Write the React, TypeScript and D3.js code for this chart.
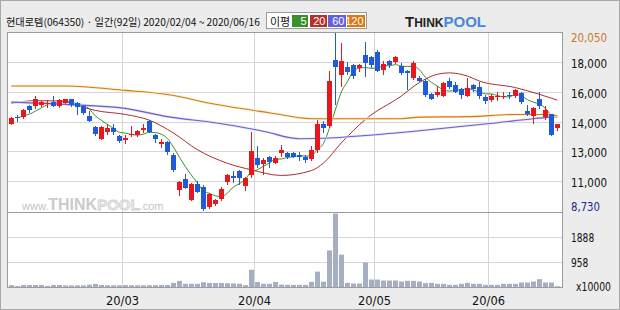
import React from "react";
import * as d3 from "d3";

const W = 620;
const H = 310;

// ---- data ----
const opens = [14250, 14700, 14650, 15350, 15350, 15450, 15500, 15650, 15350, 15600, 15800, 15550, 15350, 14750, 14050, 13300, 13700, 14000, 13450, 13200, 13500, 13500, 13850, 14400, 13500, 12950, 13100, 12250, 10000, 10700, 9400, 10400, 10200, 8900, 9100, 9450, 10500, 10900, 11250, 10250, 10950, 12050, 11650, 12100, 11750, 12350, 12400, 12400, 12250, 12100, 12000, 12550, 14250, 14100, 18350, 17350, 17850, 18000, 17800, 18650, 18500, 18850, 17700, 18250, 18200, 17950, 17650, 17150, 17200, 16950, 16150, 16100, 16050, 17000, 16750, 16500, 16050, 16700, 16600, 15950, 15750, 15950, 16000, 16100, 16050, 16200, 15050, 14750, 15800, 14650, 14850, 13950];
const highs = [14700, 14800, 15200, 15450, 16000, 15700, 15750, 16050, 15800, 15850, 15800, 15650, 15450, 15050, 14100, 14100, 14200, 14250, 13550, 13500, 14100, 13850, 14200, 14500, 13600, 13250, 13150, 12400, 10600, 11050, 10450, 10600, 10350, 9800, 9450, 10200, 11050, 11200, 11300, 10850, 13750, 12850, 12050, 12200, 12200, 12900, 12450, 12450, 12450, 12250, 12800, 14500, 14400, 17600, 20050, 19400, 18200, 18050, 18050, 19450, 18550, 18950, 18250, 18300, 18600, 18150, 17700, 18250, 17300, 17100, 16200, 16650, 16900, 17150, 16900, 16550, 17200, 16800, 16900, 16100, 16150, 16250, 16250, 16250, 16450, 16300, 15450, 15300, 16250, 15400, 14850, 14250];
const lows = [14200, 14450, 14600, 15000, 15250, 15350, 15300, 15350, 15300, 15550, 15400, 14900, 14850, 14400, 13500, 13300, 13600, 13600, 13050, 13000, 13450, 13450, 13750, 13700, 13100, 12750, 12300, 11200, 9700, 10150, 9400, 9900, 8730, 8850, 9050, 9400, 10400, 10500, 10400, 10000, 10850, 11500, 11050, 11500, 11750, 12200, 12050, 12100, 11950, 11800, 11950, 12450, 13750, 14050, 15500, 16650, 17400, 17200, 17650, 17300, 17900, 17600, 17450, 17900, 18100, 17450, 16450, 17100, 16950, 16000, 15800, 16000, 16000, 16550, 16250, 15900, 16000, 16350, 15900, 15550, 15700, 15750, 15900, 15900, 15950, 15600, 14800, 14300, 15250, 14550, 13500, 13850];
const closes = [14600, 14600, 15100, 15100, 15850, 15650, 15600, 15400, 15750, 15800, 15450, 15300, 14950, 14450, 13600, 14050, 14000, 13700, 13150, 13350, 13600, 13800, 14000, 13750, 13250, 13100, 12450, 11300, 10550, 10150, 10400, 9900, 8800, 9750, 9350, 10100, 11000, 10800, 10800, 10800, 12500, 11600, 11950, 11800, 12050, 12550, 12100, 12150, 12150, 11950, 12550, 14250, 13950, 17000, 17900, 18250, 17550, 17300, 18000, 18100, 18000, 17600, 18050, 18000, 18500, 17500, 17500, 18100, 16950, 16100, 15850, 16300, 16850, 16600, 16300, 16100, 16550, 16450, 16000, 15700, 16050, 16050, 16050, 16000, 16400, 15650, 14850, 15250, 15350, 15100, 13500, 14200];
// volume, unit x10000 shares
const volumes = [90, 55, 95, 95, 95, 95, 60, 95, 95, 80, 80, 80, 80, 110, 135, 95, 85, 85, 85, 90, 85, 85, 85, 85, 90, 95, 95, 176, 250, 140, 140, 140, 200, 170, 170, 170, 160, 150, 140, 90, 670, 210, 140, 140, 210, 110, 100, 100, 100, 100, 214, 600, 220, 1400, 2790, 1240, 176, 150, 150, 945, 300, 300, 265, 265, 265, 227, 252, 252, 227, 164, 176, 139, 139, 100, 100, 139, 176, 139, 139, 100, 100, 100, 139, 139, 139, 189, 189, 227, 315, 189, 189, 50];

const ma20Idx = [0, 4, 9, 11, 14, 19, 23, 27, 31, 36, 40, 45, 50, 52, 55, 59, 65, 68, 71, 73, 76, 78, 84, 88, 91];
const ma20Val = [15550, 15720, 15700, 15420, 15100, 14840, 14475, 13660, 12590, 11720, 11300, 10940, 11250, 11720, 13020, 14520, 16020, 16880, 17410, 17500, 17300, 16980, 16560, 16130, 15760];
const ma60Idx = [0, 9, 19, 26, 34, 42, 48, 54, 59, 70, 81, 87, 91];
const ma60Val = [15630, 15485, 15230, 14700, 14310, 13770, 13290, 13350, 13490, 13880, 14310, 14570, 14700];
const ma120Idx = [0, 9, 19, 26, 34, 43, 50, 65, 68, 76, 84, 89, 91];
const ma120Val = [16660, 16660, 16380, 16120, 15490, 14950, 14570, 14570, 14670, 14700, 14840, 14840, 14760];

const maPeriods = ["5", "20", "60", "120"];
const monthTickIdx = [19, 41, 61, 80];
const monthTickLabels = ["20/03", "20/04", "20/05", "20/06"];
const priceTickLabels = ["11,000", "13,000", "14,000", "16,000", "18,000"];
const priceMax = 20050;
const priceMin = 8730;
const priceMaxLabel = "20,050";
const priceMinLabel = "8,730";
const volTickValues = [958, 1888];
const volTickLabels = ["958", "1888"];
const volUnitLabel = "x10000";
const titleText = "현대로템(064350) · 일간(92일) 2020/02/04 ~ 2020/06/16";

// ---- styles ----
const UP = "#e8171f";
const DOWN = "#1f5bd8";
const GRID = "#d6d6d6";
const FRAME = "#9c9c9c";
const MA_COLORS = ["#3f8f2a", "#a8302c", "#6a5fce", "#d07a1c"];
const LEG_COLORS = ["#3d8f2c", "#b8302a", "#6660d8", "#dc7812"];
const FONT = "'DejaVu Sans', 'Noto Sans CJK KR', sans-serif";
const CJK = "'Noto Sans CJK KR', sans-serif";
const NUMF = "'Liberation Sans', Arial, sans-serif";

export default function App() {
  const n = closes.length;
  const x = d3.scaleBand<number>().domain(d3.range(n)).range([8.3, 560.3]);
  const cx = (i: number) => Math.round((x(i) as number) + 0.5) + 2.5;
  const left = 7;
  const right = 563;
  const pTop = 32;
  const pBot = 212;
  const vBot = 288;

  const y = d3.scaleLinear().domain([priceMin, priceMax]).range([210, 33]);
  const yv = d3.scaleLinear().domain([0, 2850]).range([287.5, 212]);

  const gridValues = d3.range(1, 6).map((k) => priceMin + (k * (priceMax - priceMin)) / 6);

  const ma5: [number, number][] = [];
  for (let i = 1; i < n; i++) {
    const s = closes.slice(Math.max(0, i - 4), i + 1);
    ma5.push([i, d3.mean(s) as number]);
  }
  const line = d3
    .line<[number, number]>()
    .x((d) => (x(d[0]) as number) + 3)
    .y((d) => y(d[1]))
    .curve(d3.curveMonotoneX);
  const zip = (a: number[], b: number[]) => a.map((v, k) => [v, b[k]] as [number, number]);

  const maLines = [
    { d: line(ma5) as string, c: MA_COLORS[0], w: 1, halo: "" },
    { d: line(zip(ma20Idx, ma20Val)) as string, c: MA_COLORS[1], w: 1, halo: "" },
    { d: line(zip(ma60Idx, ma60Val)) as string, c: MA_COLORS[2], w: 1.1, halo: "#e6e4f6" },
    { d: line(zip(ma120Idx, ma120Val)) as string, c: MA_COLORS[3], w: 1.1, halo: "#fcefc8" },
  ];

  const legX = [292, 310, 328, 347];
  const legW = [16, 17, 18, 18];

  return (
    <svg
      width={W}
      height={H}
      style={{ position: "absolute", left: 0, top: 0, display: "block" }}
      fontFamily={FONT}
    >
      <rect x={0} y={0} width={W} height={H} fill="#ececec" />
      <rect x={0.5} y={0.5} width={W - 1} height={H - 1} fill="none" stroke="#a8a8a8" />

      {/* header */}
      <text x={6} y={26} fontSize={10.2} fontFamily={CJK} fill="#111">
        {titleText}
      </text>
      <rect x={266.5} y={12.5} width={100} height={16} fill="#fff" stroke="#9a9a9a" />
      <text x={270} y={25.5} fontSize={11} fontFamily={CJK} fill="#111">
        이평
      </text>
      {maPeriods.map((p, k) => (
        <g key={p}>
          <rect x={legX[k]} y={15} width={legW[k]} height={12} fill={LEG_COLORS[k]} />
          <text
            x={legX[k] + legW[k] - 1.5}
            y={25}
            fontSize={11}
            fontFamily={NUMF}
            fill="#fff"
            textAnchor="end"
          >
            {p}
          </text>
        </g>
      ))}
      <text x={405} y={27} fontWeight="bold" fontFamily={NUMF} fill="#222">
        <tspan fontSize={15}>T</tspan>
        <tspan fontSize={12}>HINK</tspan>
        <tspan fontSize={15} fill="#4a86dc">POOL</tspan>
      </text>

      {/* plot background */}
      <rect x={left} y={pTop} width={right - left} height={vBot - pTop} fill="#fff" />

      {/* watermark */}
      <text x={22} y={210} fontFamily={NUMF} fill="#c4c4c4">
        <tspan fontSize={11}>www.</tspan>
        <tspan fontSize={16} fontWeight="bold" fill="#cbcbcb">THINK</tspan>
        <tspan fontSize={15} fontWeight="bold" fill="#ececec" stroke="#d0d0d0" strokeWidth={0.8}>POOL</tspan>
        <tspan fontSize={11}>.com</tspan>
      </text>

      {/* grid */}
      {gridValues.map((v, k) => (
        <line key={"pg" + k} x1={left} x2={right} y1={Math.round(y(v)) + 0.5} y2={Math.round(y(v)) + 0.5} stroke={GRID} />
      ))}
      {volTickValues.map((v, k) => (
        <line key={"vg" + k} x1={left} x2={right} y1={Math.round(yv(v)) + 0.5} y2={Math.round(yv(v)) + 0.5} stroke={GRID} />
      ))}
      {monthTickIdx.map((i, k) => {
        const gx = Math.round(x(i) as number) + 0.5;
        return <line key={"mg" + k} x1={gx} x2={gx} y1={pTop} y2={vBot} stroke={GRID} />;
      })}

      {/* moving averages */}
      {maLines.map((m, k) => (
        <g key={"ma" + k}>
          {m.halo && <path d={m.d} fill="none" stroke={m.halo} strokeWidth={2.6} />}
          <path d={m.d} fill="none" stroke={m.c} strokeWidth={m.w} />
        </g>
      ))}

      {/* candles */}
      {closes.map((c, i) => {
        const o = opens[i];
        const col = c >= o ? UP : DOWN;
        const bx = Math.round((x(i) as number) + 0.5);
        const top = Math.round(y(Math.max(o, c)));
        const bot = Math.round(y(Math.min(o, c)));
        const wx = cx(i);
        return (
          <g key={"c" + i}>
            <line x1={wx} x2={wx} y1={Math.round(y(highs[i]))} y2={Math.round(y(lows[i])) + 1} stroke={col} />
            <rect x={bx} y={top} width={5} height={Math.max(1, bot - top)} fill={col} />
          </g>
        );
      })}

      {/* volume */}
      {volumes.map((v, i) => {
        const bx = Math.round((x(i) as number) + 0.5);
        const t = yv(v);
        return <rect key={"v" + i} x={bx} y={t} width={5} height={287.5 - t} fill="#a6aec2" />;
      })}

      {/* frames */}
      <rect x={left + 0.5} y={pTop + 0.5} width={right - left - 1} height={vBot - pTop - 1} fill="none" stroke={FRAME} />
      <line x1={left} x2={right} y1={pBot + 0.5} y2={pBot + 0.5} stroke={FRAME} />

      {/* right axis: price */}
      <text x={571} y={42} fontSize={12} fill="#c87a2c" textLength={36} lengthAdjust="spacingAndGlyphs">
        {priceMaxLabel}
      </text>
      {gridValues.map((v, k) => (
        <text
          key={"pl" + k}
          x={571}
          y={Math.round(y(v)) + 6}
          fontSize={12}
          fill="#111"
          textLength={36}
          lengthAdjust="spacingAndGlyphs"
        >
          {priceTickLabels[k]}
        </text>
      ))}
      <text x={571} y={211} fontSize={12} fill="#1a2a8c" textLength={29} lengthAdjust="spacingAndGlyphs">
        {priceMinLabel}
      </text>

      {/* right axis: volume */}
      {volTickValues.map((v, k) => (
        <text
          key={"vl" + k}
          x={571}
          y={Math.round(yv(v)) + 5}
          fontSize={12}
          fill="#111"
          textLength={volTickLabels[k].length * 5.8}
          lengthAdjust="spacingAndGlyphs"
        >
          {volTickLabels[k]}
        </text>
      ))}
      <text x={576} y={291} fontSize={12} fill="#111" textLength={35} lengthAdjust="spacingAndGlyphs">
        {volUnitLabel}
      </text>

      {/* x axis labels */}
      {monthTickIdx.map((i, k) => (
        <text
          key={"xl" + k}
          x={Math.round(x(i) as number) + 0.5}
          y={305}
          fontSize={12}
          fill="#111"
          textAnchor="middle"
          textLength={33}
          lengthAdjust="spacingAndGlyphs"
        >
          {monthTickLabels[k]}
        </text>
      ))}
    </svg>
  );
}
